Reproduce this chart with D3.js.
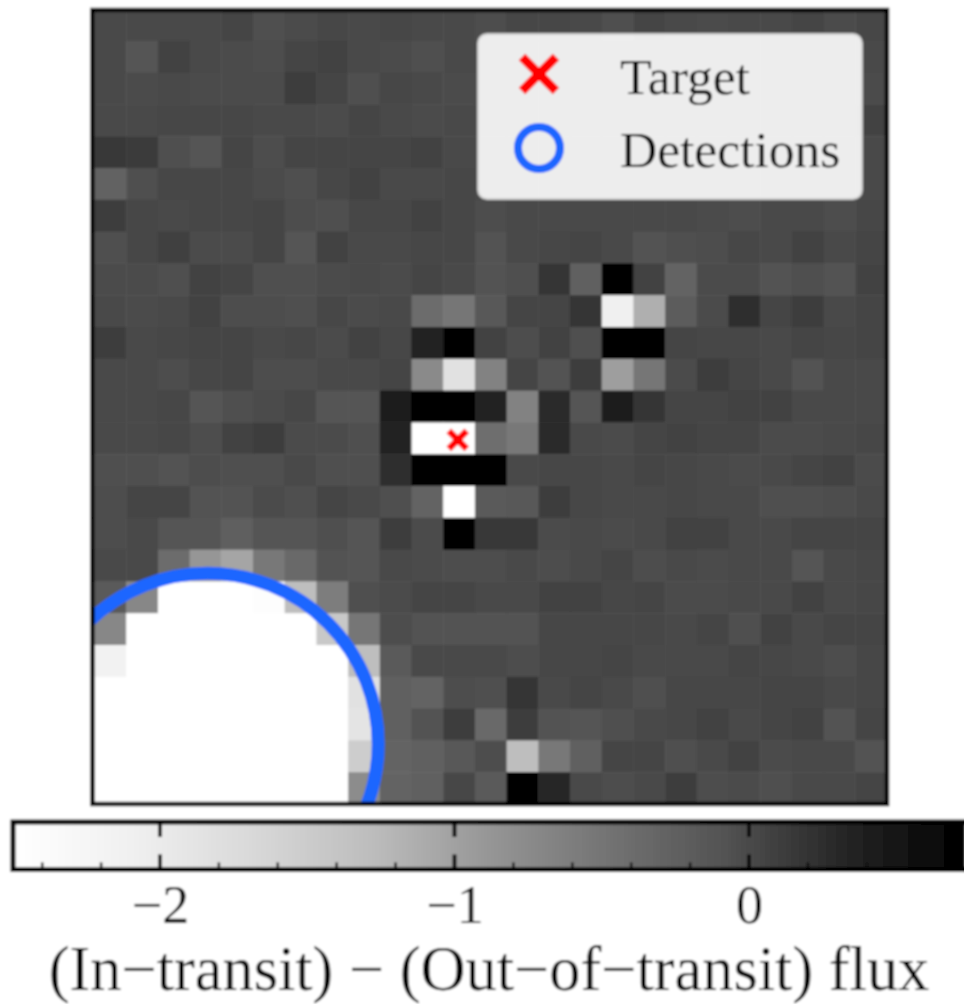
<!DOCTYPE html>
<html>
<head>
<meta charset="utf-8">
<script src="https://cdn.jsdelivr.net/npm/d3@7"></script>
<style>
  html, body { margin: 0; background: white; }
  svg { display: block; }
  text { font-family: "Liberation Serif", serif; fill: #000; }
</style>
</head>
<body>
<svg id="chart" width="964" height="1004"></svg>
<script>
var flux = [
  [0,0,0,0,.04,-.05,-.02,.02,0,.02,.01,0,-.03,.02,.02,.01,-.05,.05,.01,-.02,.01,0,.04,-.02,.02],
  [.01,-.12,.06,.01,-.02,-.03,.04,.06,0,-.02,-.05,0,.01,.01,.01,.01,.01,.01,.01,.01,.01,.01,.01,.01,.01],
  [.01,-.02,0,-.02,-.02,-.02,.1,.04,-.06,.02,0,-.02,.01,.01,.01,.01,.01,.01,.01,.01,.01,.01,.01,.01,-.02],
  [0,.01,.02,.02,.02,0,.01,-.02,.05,.01,-.02,0,.01,.01,.01,.01,.01,.01,.01,.01,.01,.01,.01,.01,.07],
  [.16,.14,-.06,-.1,.04,-.03,.05,.05,.05,.04,.06,.01,.01,.01,.01,.01,.01,.01,.01,.01,.01,.01,.01,.01,0],
  [-.27,-.05,.02,.02,.02,-.02,-.05,.02,.06,0,0,.02,.01,.01,.01,.01,.01,.01,.01,.01,.01,.01,.01,.01,0],
  [.1,.02,0,.02,.02,.05,-.03,-.05,.02,.02,.06,.02,-.03,.01,.01,0,0,.01,0,-.02,-.03,0,0,-.03,.02],
  [-.05,.02,.08,-.02,-.02,.04,-.12,.06,.01,.01,.02,.02,-.08,.01,.02,.04,0,-.08,-.05,-.03,.02,0,.06,.01,.05],
  [-.02,-.02,-.05,.06,.05,-.05,-.05,-.02,.01,-.02,.04,0,-.08,-.05,.19,-.25,.75,.07,-.3,-.02,-.02,-.08,-.05,-.08,.06],
  [0,-.02,0,.07,-.03,-.03,-.05,.02,-.02,0,-.4,-.52,-.15,.05,.05,.17,-2.1,-1.14,-.2,-.02,.25,.05,.1,0,.04],
  [.1,.01,.02,.04,.04,0,.02,-.02,.06,.02,.38,.75,.06,-.03,.07,-.05,.75,.75,.04,.02,.02,.01,.04,.02,.04],
  [0,0,-.03,.02,.04,-.03,-.03,.01,.01,.04,-.75,-1.83,-.65,.05,-.08,.1,-.97,-.52,-.02,.1,.05,.01,-.08,0,.01],
  [.01,.01,.02,-.1,-.05,-.02,.02,-.12,-.12,.4,.67,.75,.36,-.65,.26,-.1,.42,.17,.05,.04,.07,.07,0,.01,.01],
  [.01,0,.02,-.03,.07,.1,-.02,-.02,-.05,.38,-2.6,-2.6,-.42,-.54,.28,.01,-.02,.05,.06,.05,.05,-.02,-.02,0,.02],
  [-.05,-.05,-.08,-.03,-.05,-.05,.01,-.05,-.06,.25,.75,.75,.75,.01,.02,.02,.01,.04,.02,.01,-.02,0,.05,.06,-.02],
  [-.03,.05,.05,-.08,-.08,-.02,-.05,.05,.01,-.06,-.3,-2.6,-.18,-.15,.1,.02,.01,.01,.02,.01,.01,-.06,-.06,-.03,0],
  [-.03,0,-.1,-.1,-.22,-.12,-.1,-.06,-.1,.1,-.02,.75,.16,.16,-.02,0,-.02,0,.06,.06,.01,.01,.05,.04,.05],
  [.01,.01,-.4,-.89,-1.04,-.54,-.36,-.08,-.1,.01,-.02,-.03,-.03,.01,-.03,0,.05,-.03,0,-.02,.01,0,-.12,0,.02],
  [-.18,-.71,-2.6,-2.6,-2.6,-2.45,-1.3,-.6,-.05,-.02,.05,.05,.01,.01,.07,.07,.02,.05,-.02,-.02,.01,0,.06,.01,.02],
  [-.71,-2.6,-2.6,-2.6,-2.6,-2.6,-2.6,-1.45,-.52,-.03,-.08,-.08,-.08,-.08,.02,.02,.02,.02,0,.04,-.05,.07,.01,.05,.04],
  [-2.15,-2.6,-2.6,-2.6,-2.6,-2.6,-2.6,-2.6,-1.3,-.18,.01,0,.01,-.03,.02,.02,.04,.01,.01,.01,.05,.02,0,-.03,.02],
  [-2.6,-2.6,-2.6,-2.6,-2.6,-2.6,-2.6,-2.6,-1.83,-.25,-.3,-.03,-.05,.17,0,.05,.01,-.06,.02,.02,.02,.05,.05,.01,.02],
  [-2.6,-2.6,-2.6,-2.6,-2.6,-2.6,-2.6,-2.6,-1.89,-.25,-.08,.1,-.36,.1,-.08,-.1,-.06,0,.02,.07,.01,.04,.06,-.08,.05],
  [-2.6,-2.6,-2.6,-2.6,-2.6,-2.6,-2.6,-2.6,-1.52,-.3,-.25,-.15,-.03,-1.3,-.54,-.25,.04,.04,-.06,.01,.06,-.02,.01,0,-.08],
  [-2.6,-2.6,-2.6,-2.6,-2.6,-2.6,-2.6,-2.6,-.77,-.3,-.25,.02,-.18,.75,.33,.01,-.03,0,.1,-.03,-.02,-.05,.01,0,.05]
];

// positions in pixel units of the image, origin at the top left corner
var targetX = [11.46], targetY = [13.55];
var detectionX = [3.57], detectionY = [23.11], detectionR = [5.38];

var cbTicks = [-2, -1, 0];
var cbMinor = [-2.4, -2.2, -1.8, -1.6, -1.4, -1.2, -.8, -.6, -.4, -.2, .2, .4, .6];
var legendLabels = ["Target", "Detections"];
var axisLabel = "(In\u2212transit) \u2212 (Out\u2212of\u2212transit) flux";

var fluxMin = -2.5, fluxMax = 0.73;
var greys = ["#ffffff","#f0f0f0","#d9d9d9","#bdbdbd","#969696","#737373","#525252","#252525","#000000"];

var red = "#ff0000", blue = "#1f66ff";

var svg = d3.select("#chart");

// the reference is a soft upscaled raster, so blur everything a little
svg.append("defs").append("filter")
  .attr("id", "soft")
  .append("feGaussianBlur").attr("stdDeviation", 0.9);

svg.select("defs").append("clipPath")
  .attr("id", "plotclip")
  .append("rect").attr("x", 93).attr("y", 10).attr("width", 794).attr("height", 794);

var root = svg.append("g").attr("filter", "url(#soft)");

root.append("rect").attr("width", 964).attr("height", 1004).attr("fill", "white");

var x = d3.scaleLinear().domain([0, 25]).range([94.5, 887]);
var y = d3.scaleLinear().domain([0, 25]).range([9, 804]);

var color = d3.scaleLinear()
  .domain(greys.map(function(d, i) { return fluxMin + i * (fluxMax - fluxMin) / (greys.length - 1); }))
  .range(greys)
  .clamp(true);

var plot = root.append("g").attr("clip-path", "url(#plotclip)");

// image cells
plot.selectAll("g.row")
  .data(flux)
  .enter().append("g")
    .attr("class", "row")
    .each(function(row, j) {
      d3.select(this).selectAll("rect")
        .data(row)
        .enter().append("rect")
          .attr("x", function(d, i) { return x(i); })
          .attr("y", y(j))
          .attr("width", x(1) - x(0) + 0.5)
          .attr("height", y(1) - y(0) + 0.5)
          .attr("fill", function(d) { return color(d); });
    });

// detection ring
plot.selectAll("circle.det")
  .data(detectionX)
  .enter().append("circle")
    .attr("class", "det")
    .attr("cx", function(d) { return x(d); })
    .attr("cy", function(d, i) { return y(detectionY[i]); })
    .attr("r", function(d, i) { return x(detectionR[i]) - x(0); })
    .attr("fill", "none")
    .attr("stroke", blue)
    .attr("stroke-width", 13);

function cross(sel, size, width) {
  sel.append("line").attr("x1", -size).attr("y1", -size).attr("x2", size).attr("y2", size);
  sel.append("line").attr("x1", -size).attr("y1", size).attr("x2", size).attr("y2", -size);
  sel.selectAll("line").attr("stroke", red).attr("stroke-width", width);
}

// target marker
plot.selectAll("g.target")
  .data(targetX)
  .enter().append("g")
    .attr("class", "target")
    .attr("transform", function(d, i) { return "translate(" + x(d) + "," + y(targetY[i]) + ")"; })
    .call(cross, 9, 6.5);

// frame
root.append("rect")
  .attr("x", 92.5).attr("y", 10).attr("width", 794.5).attr("height", 794)
  .attr("fill", "none").attr("stroke", "#000").attr("stroke-width", 4.5);

// legend
var legend = root.append("g");
legend.append("rect")
  .attr("x", 478).attr("y", 34).attr("width", 384).attr("height", 165).attr("rx", 9)
  .attr("fill", "white").attr("fill-opacity", 0.9)
  .attr("stroke", "#cccccc").attr("stroke-width", 2);

legend.append("g")
  .attr("transform", "translate(539,74)")
  .call(cross, 17, 9);

legend.append("circle")
  .attr("cx", 539).attr("cy", 148).attr("r", 21)
  .attr("fill", "none").attr("stroke", blue).attr("stroke-width", 8);

legend.selectAll("text")
  .data(legendLabels)
  .enter().append("text")
    .attr("x", 620)
    .attr("y", function(d, i) { return 94 + i * 73; })
    .attr("font-size", 51.5)
    .text(function(d) { return d; });

// colorbar
var cbX = d3.scaleLinear().domain([-2, 0]).range([160, 749]);
var cbTop = 822, cbBottom = 869.5;
var cb = root.append("g");

cb.selectAll("rect")
  .data(d3.range(13, 964))
  .enter().append("rect")
    .attr("x", function(d) { return d; })
    .attr("y", cbTop)
    .attr("width", 1.5)
    .attr("height", cbBottom - cbTop)
    .attr("fill", function(d) { return color(cbX.invert(d)); });

cb.selectAll("line.major-top")
  .data(cbTicks)
  .enter().append("line")
    .attr("class", "major-top")
    .attr("x1", cbX).attr("x2", cbX)
    .attr("y1", cbTop).attr("y2", cbTop + 15);

cb.selectAll("line.major-bottom")
  .data(cbTicks)
  .enter().append("line")
    .attr("class", "major-bottom")
    .attr("x1", cbX).attr("x2", cbX)
    .attr("y1", cbBottom - 15).attr("y2", cbBottom);

cb.selectAll("line.minor")
  .data(cbMinor)
  .enter().append("line")
    .attr("class", "minor")
    .attr("x1", cbX).attr("x2", cbX)
    .attr("y1", cbBottom - 7).attr("y2", cbBottom);

cb.selectAll("line")
  .attr("stroke", "#111")
  .attr("stroke-width", function() { return d3.select(this).classed("minor") ? 2.5 : 4; });

// colorbar frame runs off the right side of the page
cb.append("path")
  .attr("d", "M966," + cbTop + "H13V" + cbBottom + "H966")
  .attr("fill", "none").attr("stroke", "#000").attr("stroke-width", 5);

var axis = d3.axisBottom(cbX).tickValues(cbTicks).tickSize(0).tickPadding(0).tickFormat(d3.format("d"));
var axisG = root.append("g")
  .attr("transform", "translate(0,923)")
  .call(axis);
axisG.select(".domain").remove();
axisG.selectAll("text")
  .attr("font-size", 54)
  .attr("font-family", "Liberation Serif")
  .attr("y", 0)
  .attr("dy", 0);

root.append("text")
  .attr("x", 489)
  .attr("y", 990)
  .attr("text-anchor", "middle")
  .attr("font-size", 62.4)
  .text(axisLabel);
</script>
</body>
</html>
